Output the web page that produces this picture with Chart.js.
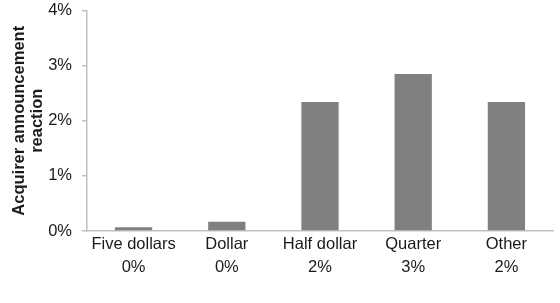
<!DOCTYPE html>
<html>
<head>
<meta charset="utf-8">
<script src="https://cdn.jsdelivr.net/npm/chart.js@4"></script>
<style>
  html, body { margin: 0; padding: 0; background: #fff; }
  #wrap { width: 560px; height: 303px; position: relative; }
</style>
</head>
<body>
<div id="wrap"><canvas id="chart"></canvas></div>
<script>
const categories = ["Five dollars", "Dollar", "Half dollar", "Quarter", "Other"];
const reaction = [0.0007, 0.0017, 0.0234, 0.0285, 0.0234];
const pctLabels = ["0%", "0%", "2%", "3%", "2%"];
const yTicks = [0, 0.01, 0.02, 0.03, 0.04];

const axisGray = '#c0c0c0';
const textColor = '#1a1a1a';
const fontFamily = '"Liberation Sans", Arial, sans-serif';

const ctx = document.getElementById('chart').getContext('2d');
new Chart(ctx, {
  type: 'bar',
  data: {
    labels: categories.map((c, i) => [c, pctLabels[i]]),
    datasets: [{
      label: 'Acquirer announcement reaction',
      data: reaction,
      backgroundColor: '#808080',
      borderWidth: 0,
      categoryPercentage: 0.4,
      barPercentage: 1.0
    }]
  },
  options: {
    animation: false,
    responsive: true,
    maintainAspectRatio: false,
    layout: { padding: { top: 10.5, right: 7, bottom: 0, left: 0 } },
    plugins: { legend: { display: false }, tooltip: { enabled: false } },
    scales: {
      x: {
        grid: { display: false },
        border: { display: true, color: axisGray, width: 1.5 },
        ticks: {
          color: textColor,
          font: { family: fontFamily, size: 16.5, lineHeight: 1.45 },
          padding: -7,
          maxRotation: 0
        },
        afterFit: s => { s.height = 72; }
      },
      y: {
        min: 0,
        max: 0.04,
        afterBuildTicks: s => { s.ticks = yTicks.map(v => ({ value: v })); },
        grid: {
          display: true,
          drawOnChartArea: false,
          drawTicks: true,
          tickLength: 5,
          color: axisGray,
          lineWidth: 1.5
        },
        border: { display: true, color: axisGray, width: 1.5 },
        ticks: {
          color: textColor,
          font: { family: fontFamily, size: 16.5 },
          padding: 10,
          callback: v => Math.round(v * 100) + '%'
        },
        title: {
          display: true,
          text: ['Acquirer announcement', 'reaction'],
          color: textColor,
          font: { family: fontFamily, size: 16.5, weight: 'bold', lineHeight: 1.12 },
          padding: { top: 10, bottom: 0 }
        },
        afterFit: s => { s.width = 87; s.paddingTop = 0; s.paddingBottom = 0; }
      }
    }
  }
});
</script>
</body>
</html>
